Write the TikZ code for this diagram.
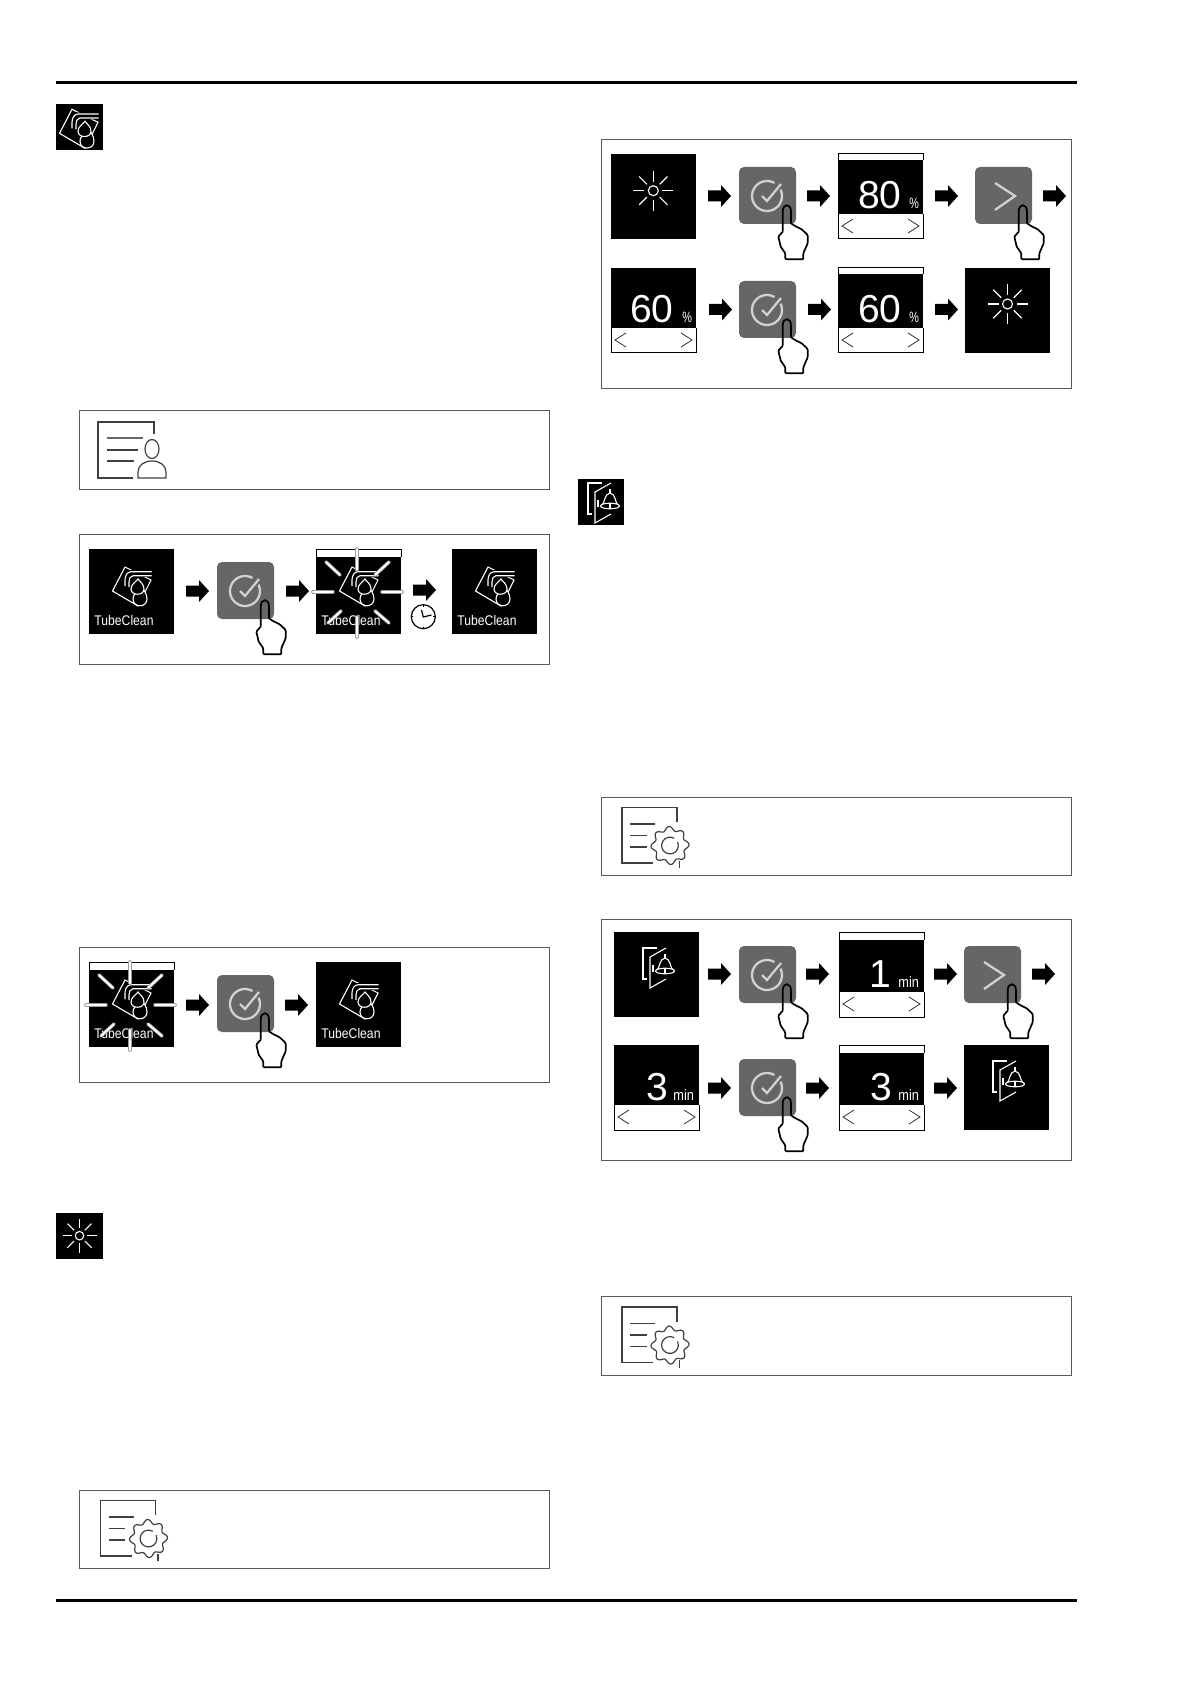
\documentclass[tikz,border=0pt]{standalone}
\usepackage{fontspec}
\setmainfont{Liberation Sans}
\def\pctunit{\scalebox{.72}[1]{\%}}
\def\minunit{\scalebox{.85}[1]{min}}
\def\tubeframe{(79.5,534) rectangle (549,664)}
\def\tubeendframe{(79.5,947.5) rectangle (549,1082)}
\def\lightframe{(601,139.5) rectangle (1071,389)}
\def\alarmframe{(601,919) rectangle (1071,1160)}
\def\hand{(43.7,64.7) -- (39.3,69.7) -- (41.7,79.7) -- (46.3,86.3) -- (46.3,92.3) -- (64.3,92.3) -- (64.3,86.3) -- (68.7,76.3) -- (68.7,68) -- (62.7,62.3) -- (56,59) -- (52,56.3)}
\tikzset{
	frame/.style={draw=black!65, line width=.5pt},
	iconline/.style={draw=white, line width=.55pt},
	docline/.style={draw=black!75, line width=.6pt},
	softline/.style={draw=black!18, line width=1.15pt},
	ray/.style={line cap=round},
	tilelabel/.style={text=white, inner sep=0pt, anchor=base west, font=\fontsize{7}{8}\selectfont},
	bignum/.style={text=white, inner sep=0pt, anchor=base east, font=\fontsize{19.5}{22}\selectfont},
	unitlabel/.style={text=white, inner sep=0pt, anchor=base west, font=\fontsize{7.5}{8}\selectfont},
	pics/blockarrow/.style={code={
		\fill (0,-5.5) -- (13,-5.5) -- (13,-11) -- (23,0) -- (13,11) -- (13,5.5) -- (0,5.5) -- cycle;
	}},
	pics/tile/.style={code={
		\fill[black] (0,0) rectangle (85,85);
	}},
	pics/sunicon/.style={code={
		\draw[iconline] (0,0) circle (5);
		\foreach \a in {0,90,180,270} \draw[iconline] (\a:9) -- (\a:20);
		\foreach \a in {45,135,225,315} \draw[iconline] (\a:9) -- (\a:20);
	}},
	pics/tubeicon/.style={code={
		\draw[iconline] (36,18) -- (23.5,42) -- (49,57) -- (62,31) -- cycle;
		\fill[black] (62,21) -- (40,21) -- (34,31) -- (34,38) -- (42,38) -- (42,33) -- (45,28) -- (62,28) -- cycle;
		\draw[iconline] (62.5,22.7) -- (42,22.7) .. controls (38,23) and (36,27) .. (36,31) -- (36,37);
		\draw[iconline] (62.5,26.7) -- (44,26.7) .. controls (41,27) and (40,30) .. (40,33) -- (40,38);
		\draw[iconline, fill=black] (52,38) .. controls (54,40) and (58,44) .. (58,50) .. controls (58,59) and (44,59) .. (44,50) .. controls (44,47) and (45,46) .. (46,45);
		\draw[iconline, fill=black] (49,30) .. controls (47,33) and (42,35) .. (42,40) .. controls (42,47) and (55,47) .. (55,40) .. controls (55,35) and (51,33) .. (49,30) -- cycle;
	}},
	pics/dooricon/.style={code={
		\draw[iconline] (43,16) -- (29,16) -- (29,47) -- (33,47);
		\draw[iconline] (52,16) -- (36,25) -- (36,56) -- (52,47);
		\draw[iconline] (39,33) -- (39,40);
		\draw[iconline] (51,22) -- (51,26);
		\draw[iconline] (43,38) .. controls (46,36) and (45,27) .. (51,26) .. controls (57,27) and (56,36) .. (59,38);
		\draw[iconline, fill=black] (51,39) ellipse (9.5 and 2.8);
		\draw[iconline] (51,36) -- (51,41);
	}},
	pics/tubelabel/.style={code={
		\node[tilelabel] (-label) at (5,76) {\scalebox{.87}[1]{TubeClean}};
	}},
	pics/flash/.style={code={
		\foreach \ax/\ay/\bx/\by in {41/0/41/21, 41/68/41/88, -3/43/17/43, 66/43/86/43, 10/13/24/26, 73/13/59/26, 12/74/25/62, 73/74/59/62} {
			\draw[ray, black!40, line width=1.8pt] (\ax,\ay) -- (\bx,\by);
			\draw[ray, white, line width=1pt] (\ax,\ay) -- (\bx,\by);
		}
	}},
	pics/okbutton/.style={code={
		\fill[black!60, rounded corners=2.5pt] (0,0) rectangle (57,57);
		\draw[softline] (28,29) ++(60:7.5pt) arc[start angle=60, end angle=385, radius=7.5pt];
		\draw[softline] (23,29) -- (28,34) -- (42,17);
		\draw[line width=.85pt, rounded corners=.5pt] \hand;
		\draw[line width=.85pt] (43.7,64.7) -- (43.7,44.7) .. controls (43.7,36) and (52,36) .. (52,44.7) -- (52,56.3);
	}},
	pics/nextbutton/.style={code={
		\fill[black!60, rounded corners=2.5pt] (0,0) rectangle (57,57);
		\draw[softline] (20,16) -- (40,29) -- (20,43);
		\draw[line width=.85pt, rounded corners=.5pt] \hand;
		\draw[line width=.85pt] (43.7,64.7) -- (43.7,44.7) .. controls (43.7,36) and (52,36) .. (52,44.7) -- (52,56.3);
	}},
	pics/topbar/.style={code={
		\fill[white] (0,0) rectangle (85,#1);
		\draw[black, line width=.5pt] (0,#1) -- (0,0) -- (85,0) -- (85,#1);
	}},
	pics/valscreen/.style n args={4}{code={
		\fill[black] (0,0) rectangle (85,60);
		\draw[line width=.5pt] (0,60) -- (0,85) -- (85,85) -- (85,60);
		\draw[black!80, line width=.4pt] (15,65) -- (4,72) -- (15,79);
		\draw[black!80, line width=.4pt] (70,65) -- (81,72) -- (70,79);
		\node[bignum] (-value) at (#2,55) {#1};
		\node[unitlabel] (-unit) at (#3,55) {#4};
	}},
	pics/gearnote/.style={code={
		\draw[docline] (76,25) -- (76,10.5) -- (21,10.5) -- (21,66) -- (52,66);
		\draw[docline] (29,27) -- (54,27);
		\draw[docline] (29,38.5) -- (45.5,38.5);
		\draw[docline] (29,50) -- (45.5,50);
		\draw[docline] plot[domain=0:360, samples=121, smooth] ({69+(17+2*cos(8*\x+22))*cos(\x)}, {48.5+(17+2*cos(8*\x+22))*sin(\x)});
		\draw[docline] (69,48.5) ++(60:4.2pt) arc[start angle=60, end angle=385, radius=4.2pt];
		\draw[docline] (78.5,63.5) -- (78.5,71);
	}}
}

\begin{document}
\begin{tikzpicture}[x=.5pt, y=-.5pt]
	\useasboundingbox (0,0) rectangle (1191,1684);
	\fill[white] (0,0) rectangle (1191,1684);
	\draw[line width=1.5pt] (56,83) -- (1077,83);
	\draw[line width=1.5pt] (56,1600) -- (1077,1600);

	% section heads
	\fill (56,104) rectangle (103,150);
	\pic at (36,91.3) {tubeicon};
	\fill (56,1212.5) rectangle (103,1259);
	\pic[scale=.85] at (79.5,1235.7) {sunicon};
	\fill (578,479) rectangle (624,525);
	\pic at (559,467) {dooricon};

	% note boxes
	\draw[frame] (79.5,411) rectangle (549,489.5);
	\draw[frame] (79.5,1490) rectangle (549,1568);
	\draw[frame] (601,797) rectangle (1071,875);
	\draw[frame] (601,1296.5) rectangle (1071,1375);
	\begin{scope}[shift={(79.5,411)}]
		\draw[docline] (74.5,23) -- (74.5,11) -- (18.5,11) -- (18.5,67) -- (53.5,67);
		\draw[draw=black!60, line width=.8pt] (27.5,27) -- (63.5,27);
		\draw[docline] (27.5,39) -- (58.5,39);
		\draw[docline] (27.5,50) -- (54,50);
		\draw[docline] (72.5,38) ellipse (7 and 9.5);
		\draw[docline] (58.5,67) -- (58.5,61) .. controls (58.5,54) and (65,50) .. (72.5,50) .. controls (80,50) and (86.5,54) .. (86.5,61) -- (86.5,67) -- cycle;
	\end{scope}
	\pic at (79.5,1490) {gearnote};
	\pic at (601,797) {gearnote};
	\pic at (601,1296.5) {gearnote};

	% TubeClean start
	\draw[frame] \tubeframe;
	\pic at (89,549) {tile};
	\pic at (89,549) {tubeicon};
	\pic (tubeA) at (89,549) {tubelabel};
	\pic at (217,562) {okbutton};
	\pic at (316,549) {tile};
	\pic at (316,549) {topbar={8}};
	\pic at (316,549) {tubeicon};
	\pic (tubeB) at (316,549) {tubelabel};
	\pic at (316,549) {flash};
	\pic at (452,549) {tile};
	\pic at (452,549) {tubeicon};
	\pic (tubeC) at (452,549) {tubelabel};
	\foreach \x/\y in {186/591, 286/591, 413/590} \pic at (\x,\y) {blockarrow};
	% clock
	\draw[line width=.6pt] (423.3,616.7) circle (12);
	\draw[line width=.6pt] (421.5,610) -- (423.3,617) -- (431.5,615);
	\foreach \a in {0,90,180,270} \draw[line width=.5pt] (423.3,616.7) ++(\a:10) -- ++(\a:1.5);

	% TubeClean end
	\draw[frame] \tubeendframe;
	\pic at (89,962) {tile};
	\pic at (89,962) {topbar={8}};
	\pic at (89,962) {tubeicon};
	\pic (tubeD) at (89,962) {tubelabel};
	\pic at (89,962) {flash};
	\pic at (217,975) {okbutton};
	\pic at (316,962) {tile};
	\pic at (316,962) {tubeicon};
	\pic (tubeE) at (316,962) {tubelabel};
	\foreach \x in {186,285} \pic at (\x,1005) {blockarrow};

	% brightness
	\draw[frame] \lightframe;
	\pic at (611,154) {tile};
	\pic at (653.3,190.7) {sunicon};
	\pic at (739,167) {okbutton};
	\pic (lightA) at (838,154) {valscreen={80}{64}{71}{\pctunit}};
	\pic at (838,154) {topbar={6}};
	\pic at (975,167) {nextbutton};
	\pic (lightB) at (611,268) {valscreen={60}{63}{71}{\pctunit}};
	\pic at (739,281) {okbutton};
	\pic (lightC) at (838,268) {valscreen={60}{64}{71}{\pctunit}};
	\pic at (838,268) {topbar={6}};
	\pic at (965,268) {tile};
	\pic at (1007.5,304) {sunicon};
	\foreach \x in {708,807,935,1043} \pic at (\x,196) {blockarrow};
	\foreach \x in {709,808,935} \pic at (\x,309.5) {blockarrow};

	% door alarm
	\draw[frame] \alarmframe;
	\pic at (614,932) {tile};
	\pic at (614,932) {dooricon};
	\pic at (739,946) {okbutton};
	\pic (alarmA) at (839,932) {valscreen={1}{53}{59}{\minunit}};
	\pic at (839,932) {topbar={7.5}};
	\pic at (964,946) {nextbutton};
	\pic (alarmB) at (614,1045) {valscreen={3}{55}{59}{\minunit}};
	\pic at (739,1059) {okbutton};
	\pic (alarmC) at (839,1045) {valscreen={3}{54}{59}{\minunit}};
	\pic at (839,1045) {topbar={7.5}};
	\pic at (964,1045) {tile};
	\pic at (964,1045) {dooricon};
	\foreach \x in {708,806,934,1032} \pic at (\x,974) {blockarrow};
	\foreach \x in {708,806,934} \pic at (\x,1088) {blockarrow};
\end{tikzpicture}
\end{document}
